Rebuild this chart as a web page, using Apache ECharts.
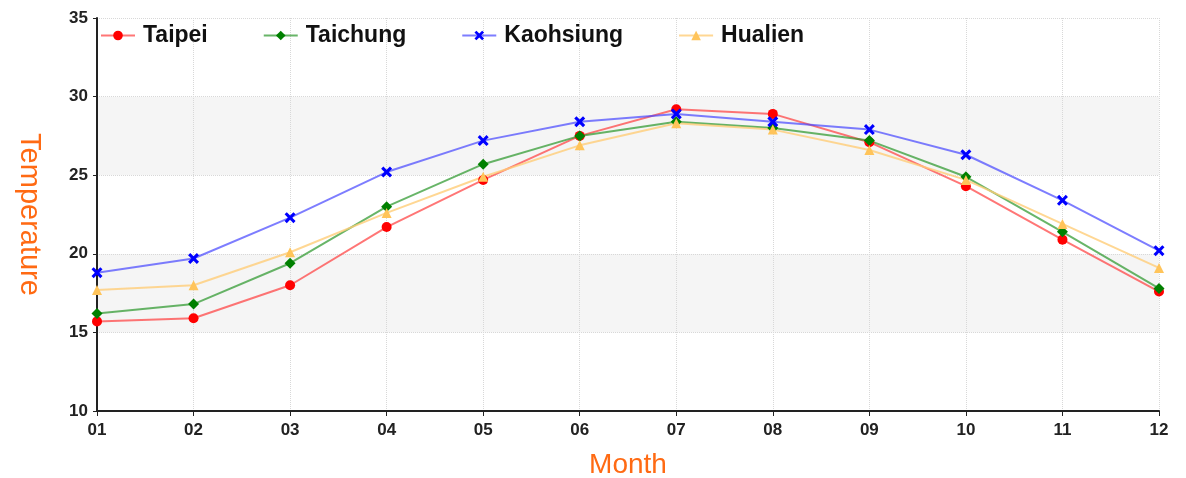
<!DOCTYPE html>
<html>
<head>
<meta charset="utf-8">
<script src="https://cdn.jsdelivr.net/npm/echarts@6/dist/echarts.min.js"></script>
<style>
html,body{margin:0;padding:0;background:#fff;}
#c{width:1186px;height:478px;}
</style>
</head>
<body>
<div id="c"></div>
<script>
const months = ['01','02','03','04','05','06','07','08','09','10','11','12'];
const taipei    = [15.7, 15.9, 18.0, 21.7, 24.7, 27.5, 29.2, 28.9, 27.1, 24.3, 20.9, 17.6];
const taichung  = [16.2, 16.8, 19.4, 23.0, 25.7, 27.5, 28.4, 28.0, 27.2, 24.9, 21.4, 17.8];
const kaohsiung = [18.8, 19.7, 22.3, 25.2, 27.2, 28.4, 28.9, 28.4, 27.9, 26.3, 23.4, 20.2];
const hualien   = [17.7, 18.0, 20.1, 22.6, 24.9, 26.9, 28.3, 27.9, 26.6, 24.7, 21.9, 19.1];
const yTicks = {min: 10, max: 35, interval: 5};

const FONT = '"Liberation Sans", Arial, sans-serif';
const xPath = 'path://M0,2 L2,0 L5,3 L8,0 L10,2 L7,5 L10,8 L8,10 L5,7 L2,10 L0,8 L3,5 Z';

function mk(name, data, color, lineColor, symbol, size) {
  return {
    name, type: 'line', data,
    symbol, symbolSize: size,
    itemStyle: {color},
    lineStyle: {color: lineColor, width: 2},
    emphasis: {disabled: true},
    z: 3
  };
}

const chart = echarts.init(document.getElementById('c'), null, {renderer: 'canvas'});
chart.setOption({
  animation: false,
  backgroundColor: '#ffffff',
  textStyle: {fontFamily: FONT},
  grid: {left: 97, right: 27, top: 18, bottom: 67, containLabel: false, outerBoundsMode: 'none'},
  legend: {
    left: 95, top: 19, itemGap: 55, itemWidth: 34, itemHeight: 12,
    textStyle: {fontSize: 23, fontWeight: 'bold', color: '#111', fontFamily: FONT, padding: [0, 0, 0, 3]},
    data: ['Taipei', 'Taichung', 'Kaohsiung', 'Hualien']
  },
  xAxis: {
    type: 'category', data: months, boundaryGap: false,
    name: 'Month', nameLocation: 'middle', nameGap: 40,
    nameTextStyle: {color: '#ff6a13', fontSize: 28, fontFamily: FONT},
    axisLine: {lineStyle: {color: '#222', width: 2}},
    axisTick: {show: true, length: 5, lineStyle: {color: '#222'}},
    axisLabel: {color: '#222', fontSize: 17, fontWeight: 'bold', margin: 11, fontFamily: FONT},
    splitLine: {show: true, lineStyle: {color: '#d8d8d8', type: 'dotted', width: 1}}
  },
  yAxis: {
    type: 'value', min: yTicks.min, max: yTicks.max, interval: yTicks.interval,
    name: 'Temperature', nameLocation: 'middle', nameGap: 54, nameRotate: -90,
    nameTextStyle: {color: '#ff6a13', fontSize: 29, fontFamily: FONT},
    axisLine: {show: true, lineStyle: {color: '#222', width: 2}},
    axisTick: {show: true, length: 4, lineStyle: {color: '#222'}},
    axisLabel: {color: '#222', fontSize: 17, fontWeight: 'bold', margin: 9, fontFamily: FONT},
    splitLine: {show: true, lineStyle: {color: '#d8d8d8', type: 'dotted', width: 1}},
    splitArea: {show: true, areaStyle: {color: ['#ffffff', '#f5f5f5']}}
  },
  series: [
    mk('Taipei', taipei, '#ff0000', 'rgba(255,60,60,0.7)', 'circle', 10),
    mk('Taichung', taichung, '#008000', 'rgba(40,150,40,0.7)', 'diamond', 11),
    mk('Kaohsiung', kaohsiung, '#0000ff', 'rgba(70,70,255,0.7)', xPath, 11),
    mk('Hualien', hualien, '#ffc45a', 'rgba(255,205,120,0.8)', 'triangle', 10)
  ]
});
</script>
</body>
</html>
